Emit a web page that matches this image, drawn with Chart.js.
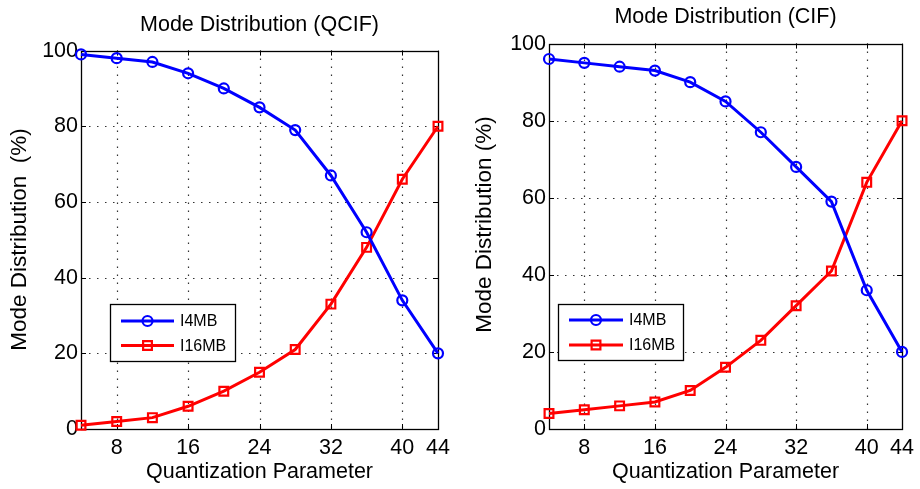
<!DOCTYPE html>
<html><head><meta charset="utf-8">
<script src="https://cdn.jsdelivr.net/npm/chart.js@4.4.0/dist/chart.umd.min.js"></script>
<style>
html,body{margin:0;padding:0;background:#fff;overflow:hidden}
#wrap{position:relative;width:920px;height:489px}
.c{position:absolute;top:0;width:460px;height:489px}
</style></head><body>
<div id="wrap">
<div class="c" style="left:0"><canvas id="c1" width="460" height="489"></canvas></div>
<div class="c" style="left:460px"><canvas id="c2" width="460" height="489"></canvas></div>
</div>
<script>
// ---- data ----
const qp = [4, 8, 12, 16, 20, 24, 28, 32, 36, 40, 44];
const xTickValues = [8, 16, 24, 32, 40, 44];
const yTickValues = [0, 20, 40, 60, 80, 100];
const qcifI4MB = [99, 98, 97, 94, 90, 85, 79, 67, 52, 34, 20];
const qcifI16MB = [1, 2, 3, 6, 10, 15, 21, 33, 48, 66, 80];
const cifI4MB = [96, 95, 94, 93, 90, 85, 77, 68, 59, 36, 20];
const cifI16MB = [4, 5, 6, 7, 10, 16, 23, 32, 41, 64, 80];
const seriesNames = ['I4MB', 'I16MB'];
const chartTitles = ['Mode Distribution (QCIF)', 'Mode Distribution (CIF)'];
const xAxisTitle = 'Quantization Parameter';
const yAxisTitles = ['Mode Distribution  (%)', 'Mode Distribution (%)'];

const FONT = "'Liberation Sans', Arial, Helvetica, sans-serif";
Chart.defaults.font.family = FONT;
Chart.defaults.color = '#000';

function pts(vals) { return qp.map((x, i) => ({ x: x, y: vals[i] })); }

const framePlugin = {
  id: 'frame',
  beforeDatasetsDraw(chart) {
    const { ctx, chartArea: a, scales } = chart;
    const xs = scales.x, ys = scales.y;
    ctx.save();
    // dotted grid
    ctx.strokeStyle = '#333';
    ctx.lineWidth = 1.2;
    ctx.setLineDash([1.5, 6.5]);
    xTickValues.forEach(v => {
      if (v <= xs.min || v >= xs.max) return;
      const px = Math.round(xs.getPixelForValue(v)) + 0.5;
      ctx.beginPath(); ctx.moveTo(px, a.top); ctx.lineTo(px, a.bottom); ctx.stroke();
    });
    yTickValues.forEach(v => {
      if (v <= ys.min || v >= ys.max) return;
      const py = Math.round(ys.getPixelForValue(v)) + 0.5;
      ctx.beginPath(); ctx.moveTo(a.left, py); ctx.lineTo(a.right, py); ctx.stroke();
    });
    ctx.setLineDash([]);
    // inward ticks
    ctx.strokeStyle = '#000';
    ctx.lineWidth = 1;
    const tl = 5;
    xTickValues.forEach(v => {
      const px = Math.round(xs.getPixelForValue(v)) + 0.5;
      ctx.beginPath();
      ctx.moveTo(px, a.bottom); ctx.lineTo(px, a.bottom - tl);
      ctx.moveTo(px, a.top); ctx.lineTo(px, a.top + tl);
      ctx.stroke();
    });
    yTickValues.forEach(v => {
      const py = Math.round(ys.getPixelForValue(v)) + 0.5;
      ctx.beginPath();
      ctx.moveTo(a.left, py); ctx.lineTo(a.left + tl, py);
      ctx.moveTo(a.right, py); ctx.lineTo(a.right - tl, py);
      ctx.stroke();
    });
    // box
    ctx.lineWidth = 1.3;
    ctx.strokeRect(Math.round(a.left) + 0.5, Math.round(a.top) + 0.5,
      Math.round(a.right - a.left), Math.round(a.bottom - a.top));
    ctx.restore();
  }
};

const yTitlePlugin = {
  id: 'yTitle',
  afterDraw(chart, args, o) {
    const ctx = chart.ctx;
    ctx.save();
    ctx.translate(o.cx, o.cy);
    ctx.rotate(-Math.PI / 2);
    ctx.fillStyle = '#000';
    ctx.font = o.fontSize + 'px ' + FONT;
    ctx.textAlign = 'center';
    ctx.textBaseline = 'middle';
    ctx.fillText(o.text, 0, 0);
    ctx.restore();
  }
};

function drawMarker(ctx, style, x, y, r) {
  ctx.beginPath();
  if (style === 'rect') {
    const s = Math.SQRT1_2 * r;
    ctx.rect(x - s, y - s, 2 * s, 2 * s);
  } else {
    ctx.arc(x, y, r, 0, Math.PI * 2);
  }
  ctx.stroke();
}

const boxLegendPlugin = {
  id: 'boxLegend',
  afterDraw(chart, args, o) {
    const ctx = chart.ctx;
    ctx.save();
    ctx.fillStyle = '#fff';
    ctx.fillRect(o.x, o.y, o.w, o.h);
    ctx.strokeStyle = '#000';
    ctx.lineWidth = 1.3;
    ctx.strokeRect(o.x + 0.5, o.y + 0.5, o.w, o.h);
    chart.data.datasets.forEach((ds, i) => {
      const y = o.rows[i];
      ctx.strokeStyle = ds.borderColor;
      ctx.lineWidth = ds.borderWidth;
      ctx.beginPath(); ctx.moveTo(o.x0, y); ctx.lineTo(o.x1, y); ctx.stroke();
      ctx.lineWidth = ds.pointBorderWidth;
      drawMarker(ctx, ds.pointStyle, (o.x0 + o.x1) / 2, y, ds.pointRadius);
      ctx.fillStyle = '#000';
      ctx.font = o.fontSize + 'px ' + FONT;
      ctx.textBaseline = 'middle';
      ctx.textAlign = 'left';
      ctx.fillText(ds.label, o.tx, y + 1);
    });
    ctx.restore();
  }
};

function makeChart(id, idx, a, b, geo) {
  const ctx = document.getElementById(id);
  return new Chart(ctx, {
    type: 'line',
    data: {
      datasets: [
        { label: seriesNames[0], data: pts(a), borderColor: '#0000ff', borderWidth: 3,
          pointStyle: 'circle', pointRadius: 5, pointBorderWidth: 2.2,
          pointBackgroundColor: 'rgba(0,0,0,0)', pointBorderColor: '#0000ff',
          tension: 0, clip: false },
        { label: seriesNames[1], data: pts(b), borderColor: '#ff0000', borderWidth: 3,
          pointStyle: 'rect', pointRadius: 6.2, pointBorderWidth: 2.2,
          pointBackgroundColor: 'rgba(0,0,0,0)', pointBorderColor: '#ff0000',
          tension: 0, clip: false }
      ]
    },
    options: {
      responsive: false,
      animation: false,
      devicePixelRatio: 1,
      layout: { padding: { left: 0, right: geo.padRight, top: 0, bottom: 0 } },
      plugins: {
        legend: { display: false },
        tooltip: { enabled: false },
        title: {
          display: true, fullSize: false, text: chartTitles[idx], color: '#000',
          font: { size: 21.5, weight: 'normal', lineHeight: 1.2 },
          padding: { top: geo.titleTop, bottom: geo.titleBottom }
        },
        boxLegend: geo.legend,
        yTitle: { text: yAxisTitles[idx], cx: geo.yTitleX, cy: geo.yTitleY, fontSize: 22.5 }
      },
      scales: {
        x: {
          type: 'linear', min: 4, max: 44,
          afterBuildTicks: s => { s.ticks = xTickValues.map(v => ({ value: v })); },
          afterFit: s => { s.height = 60; },
          grid: { display: false, drawTicks: false },
          border: { display: false },
          ticks: { autoSkip: false, maxRotation: 0, padding: 6, color: '#000',
                   font: { size: 21.5, lineHeight: 1.2 } },
          title: { display: true, text: xAxisTitle, color: '#000',
                   font: { size: 21.5, lineHeight: 1.2 }, padding: { top: 0, bottom: 4 } }
        },
        y: {
          type: 'linear', min: 0, max: 100,
          afterBuildTicks: s => { s.ticks = yTickValues.map(v => ({ value: v })); },
          afterFit: s => { s.width = geo.yWidth; },
          grid: { display: false, drawTicks: false },
          border: { display: false },
          ticks: { padding: 3, color: '#000', font: { size: 21.5, lineHeight: 1.2 } },
          title: { display: false }
        }
      }
    },
    plugins: [framePlugin, boxLegendPlugin, yTitlePlugin]
  });
}

makeChart('c1', 0, qcifI4MB, qcifI16MB, {
  padRight: 22, titleTop: 12.4, titleBottom: 12.4, yWidth: 81, yTitleX: 20, yTitleY: 239.5,
  legend: { x: 110, y: 304, w: 125, h: 57, x0: 121, x1: 174, tx: 180, rows: [321, 345.5], fontSize: 16 }
});
makeChart('c2', 1, cifI4MB, cifI16MB, {
  padRight: 12, titleTop: 4.4, titleBottom: 13.4, yWidth: 89, yTitleX: 25, yTitleY: 224.5,
  legend: { x: 98, y: 304, w: 125, h: 56, x0: 109, x1: 163, tx: 169, rows: [320, 345], fontSize: 16 }
});
</script>
</body></html>
